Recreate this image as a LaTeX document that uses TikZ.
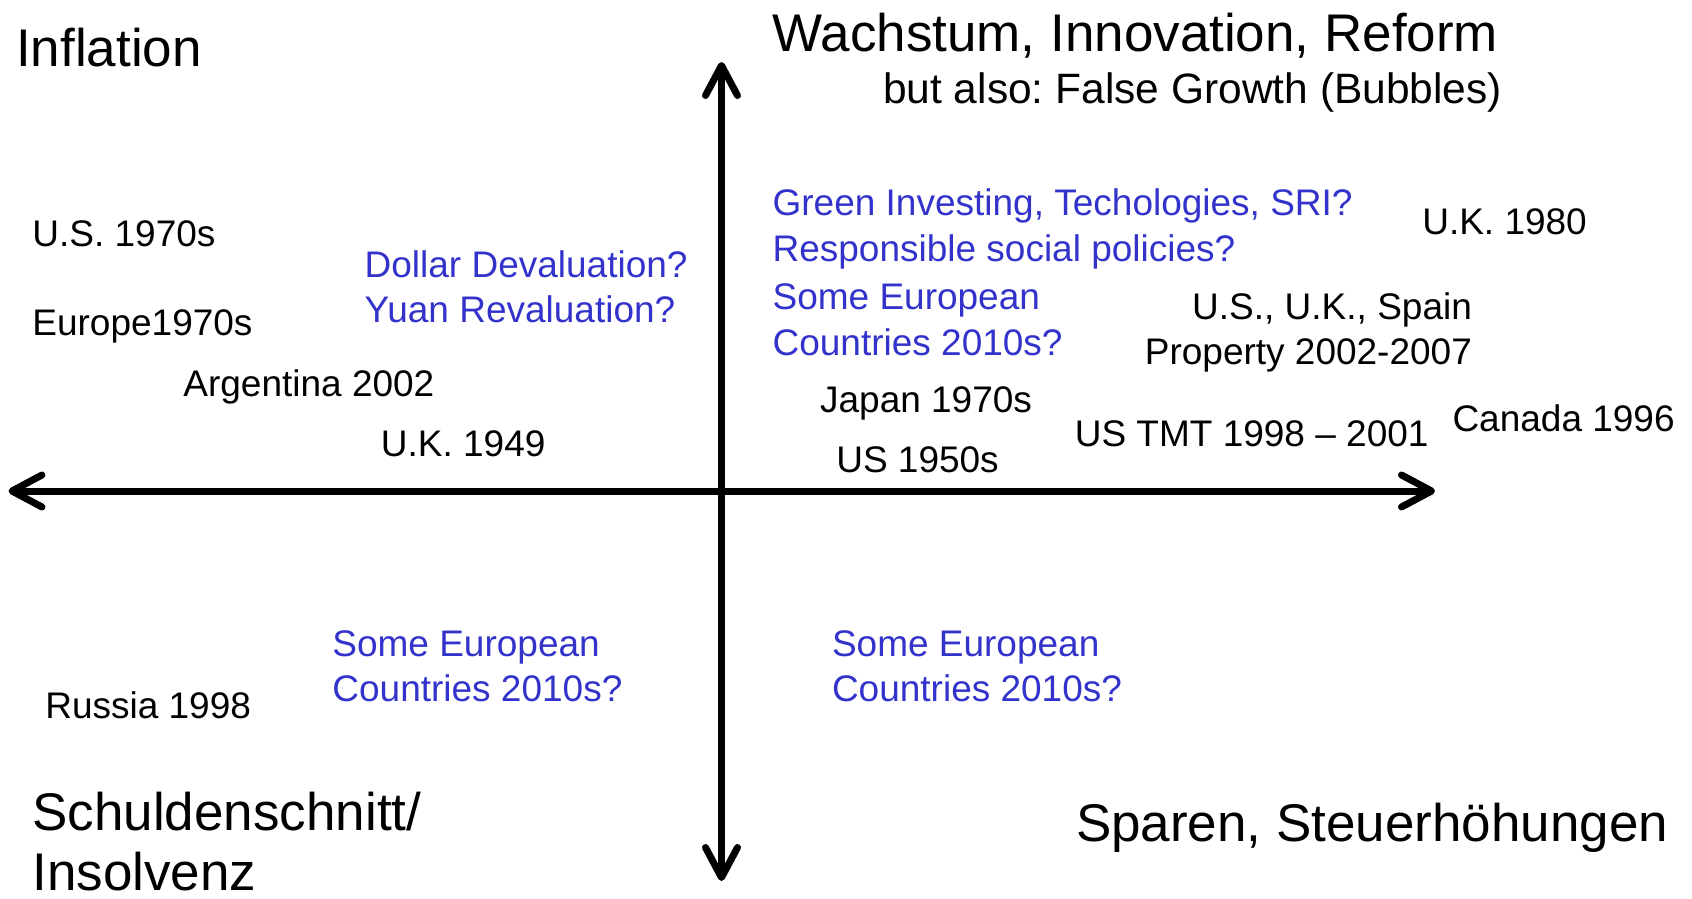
\documentclass[tikz,border=0pt]{standalone}
\usepackage{fontspec}
\setmainfont{Liberation Sans}
\usetikzlibrary{arrows.meta}
\definecolor{qblue}{RGB}{51,51,204}
\frenchspacing
\begin{document}
\begin{tikzpicture}[x=0.5pt,y=-0.5pt,
  every node/.style={inner sep=0pt,outer sep=0pt},
  axis/.style={line width=3.5pt,
    {Straight Barb[length=15pt,width=16pt,line cap=round,line join=round]}-{Straight Barb[length=15pt,width=16pt,line cap=round,line join=round]}},
  big/.style={font=\fontsize{26.5}{30.2}\selectfont,align=left},
  mid/.style={font=\fontsize{21.25}{25}\selectfont},
  small/.style={font=\fontsize{18.5}{22.65}\selectfont,align=left},
  case/.style={small,text=black},
  idea/.style={small,text=qblue}]
\useasboundingbox (0,0) rectangle (1692,899);

% axes
\coordinate (xl) at (8.5,491);
\coordinate (xr) at (1435,491);
\coordinate (yt) at (721.5,62);
\coordinate (yb) at (721.5,881);
\draw[axis] (xl) -- (xr);
\draw[axis] (yt) -- (yb);

% quadrant titles (multi-line nodes sit on the baseline of their last line)
\node[big,anchor=base west] (infl) at (16.2,66.5) {Inflation};
\node[big,anchor=base west] (grow) at (772.6,51.4) {Wachstum, Innovation, Reform};
\node[mid,anchor=base east] (bubb) at (1502,103.5) {but also: False Growth (Bubbles)};
\node[big,anchor=base west] (debt) at (32.4,890.9) {Schuldenschnitt/\\Insolvenz};
\node[big,anchor=base west] (save) at (1076,841.3) {Sparen, Steuerhöhungen};

% upper left
\node[case,anchor=base west] (us70) at (32.4,246) {U.S. 1970s};
\node[case,anchor=base west] (eu70) at (32.4,335.7) {Europe1970s};
\node[case,anchor=base west] (arg) at (183.4,396) {Argentina 2002};
\node[case,anchor=base west] (uk49) at (380.9,456.5) {U.K. 1949};
\node[idea,anchor=base west] (fx) at (364.7,322.7) {Dollar Devaluation?\\Yuan Revaluation?};

% upper right
\node[idea,anchor=base west] (green) at (772.6,261.2) {Green Investing, Techologies, SRI?\\Responsible social policies?};
\node[idea,anchor=base west] (eutr) at (772.6,355.1) {Some European\\Countries 2010s?};
\node[case,anchor=base west] (uk80) at (1422.3,234.2) {U.K. 1980};
\node[case,anchor=base east,align=right] (prop) at (1471.9,364.8) {U.S., U.K., Spain\\Property 2002-2007};
\node[case,anchor=base west] (jp70) at (820.1,412.3) {Japan 1970s};
\node[case,anchor=base west] (tmt) at (1074.8,446.8) {US TMT 1998 – 2001};
\node[case,anchor=base west] (can) at (1452.5,431.7) {Canada 1996};
\node[case,anchor=base west] (us50) at (836.3,472.7) {US 1950s};

% lower half
\node[idea,anchor=base west] (eubl) at (332.4,701.5) {Some European\\Countries 2010s?};
\node[case,anchor=base west] (rus) at (45.3,718.7) {Russia 1998};
\node[idea,anchor=base west] (eubr) at (832,701.5) {Some European\\Countries 2010s?};
\end{tikzpicture}
\end{document}
